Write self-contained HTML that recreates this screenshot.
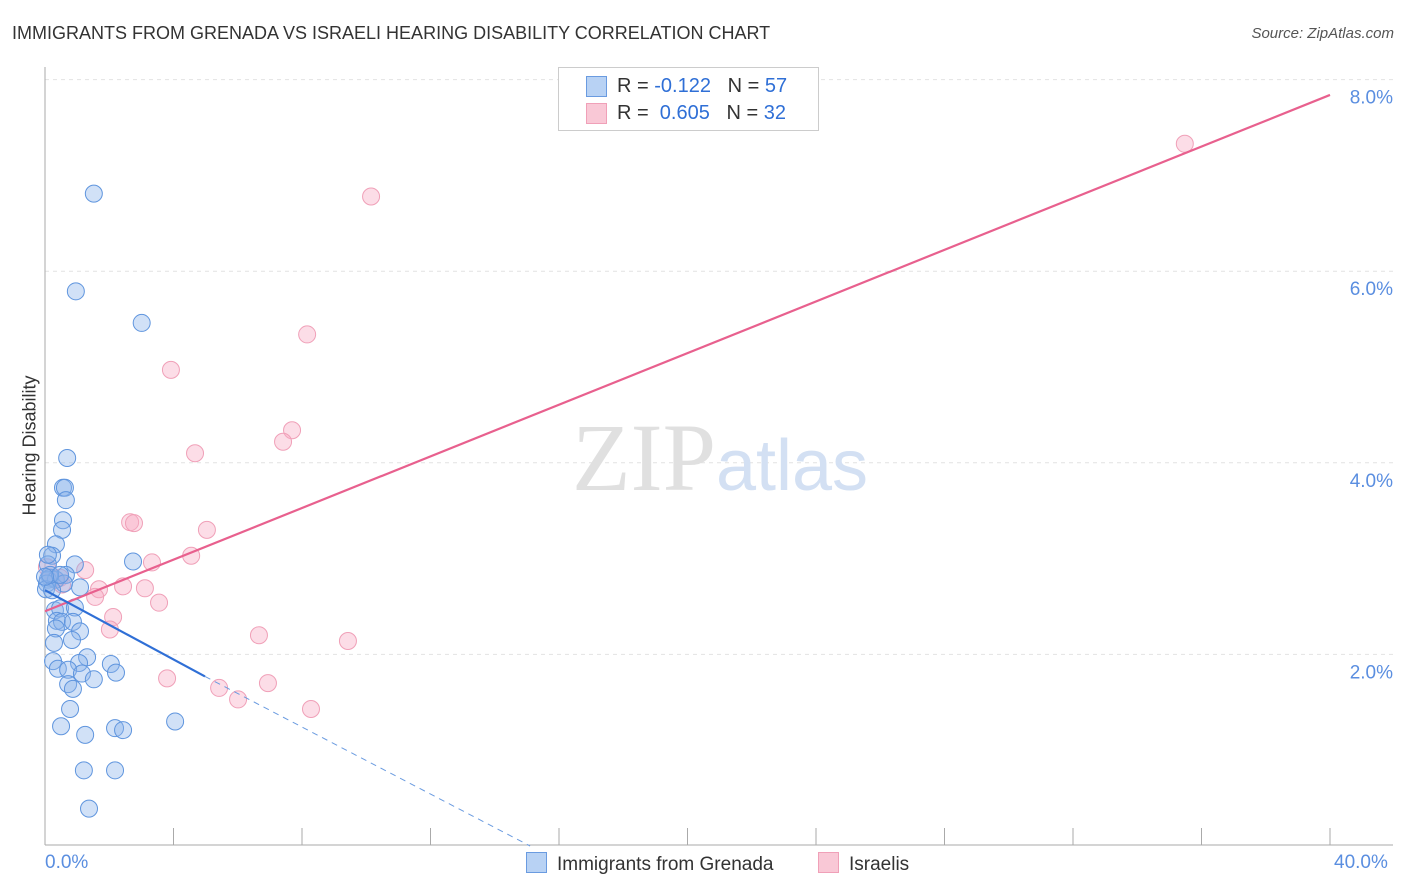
<!DOCTYPE html>
<html><head><meta charset="utf-8"><style>
body{margin:0;background:#fff;font-family:"Liberation Sans",sans-serif}
#c{position:relative;width:1406px;height:892px}
.t{position:absolute;white-space:nowrap}
.sw{position:absolute;width:19px;height:19px}
</style></head><body>
<div id="c">
<div class="t" style="left:12px;top:23px;font-size:18px;color:#333">IMMIGRANTS FROM GRENADA VS ISRAELI HEARING DISABILITY CORRELATION CHART</div>
<div class="t" style="right:12px;top:25px;font-size:15px;font-style:italic;color:#555">Source: ZipAtlas.com</div>
<div class="t" style="left:-30px;top:445px;font-size:18px;color:#333;transform:rotate(-90deg);width:120px;text-align:center">Hearing Disability</div>
<svg id="s" width="1406" height="892" style="position:absolute;left:0;top:0"></svg>
</div>
<script>
const blueX=[1.52,0.96,3.01,0.69,0.56,0.62,0.65,0.56,0.53,0.34,0.22,0.09,0.93,2.74,0.16,0.09,0.34,0.65,1.09,0.59,0.31,0.47,0.93,0.37,0.53,0.87,0.34,1.09,0.84,0.28,1.31,0.25,1.06,2.05,0.40,0.72,1.15,2.21,1.52,0.72,0.87,0.78,4.05,0.50,1.25,2.18,2.43,1.21,2.18,1.37,0.06,0.03,0.22,0.16,0.47,0.0,0.09];
const blueY=[6.81,5.79,5.46,4.05,3.74,3.74,3.61,3.40,3.30,3.15,3.03,2.94,2.94,2.97,2.80,2.78,2.78,2.83,2.70,2.74,2.46,2.48,2.49,2.35,2.34,2.34,2.27,2.24,2.15,2.12,1.97,1.93,1.91,1.90,1.85,1.84,1.80,1.81,1.74,1.69,1.64,1.43,1.30,1.25,1.16,1.23,1.21,0.79,0.79,0.39,2.74,2.68,2.67,2.83,2.83,2.81,3.04];
const pinkX=[35.48,10.15,8.16,3.92,7.69,7.41,4.67,2.65,2.77,5.04,4.55,3.33,1.25,0.06,0.16,0.47,0.53,2.43,1.68,3.11,1.56,3.55,2.12,2.02,6.66,9.43,3.80,5.42,6.94,6.01,8.28,0.31];
const pinkY=[7.33,6.78,5.34,4.97,4.34,4.22,4.10,3.38,3.37,3.30,3.03,2.96,2.88,2.91,2.80,2.80,2.73,2.71,2.68,2.69,2.60,2.54,2.39,2.26,2.20,2.14,1.75,1.65,1.70,1.53,1.43,2.78];
const yTicks=[2,4,6,8];
const pinkLine=[[0,2.45],[40,7.84]];
const blueLine=[[0,2.67],[4.98,1.77]];
const blueDash=[[4.98,1.77],[15.1,0]];
const X=v=>45+v/40*1285, Y=v=>846-v*95.8;
const s=document.getElementById('s');const NS='http://www.w3.org/2000/svg';
function mk(tag,a,name){const e=document.createElementNS(NS,tag);for(const k in a)e.setAttribute(k,a[k]);


s.appendChild(e);return e;}
yTicks.forEach(v=>{mk('line',{x1:45,x2:1393,y1:Y(v),y2:Y(v),stroke:'#e2e2e2','stroke-dasharray':'4,4'},'gridline');
const t=mk('text',{x:1393,y:Y(v)+24,'text-anchor':'end','font-size':19,fill:'#5a8ee0','font-family':'Liberation Sans'},'y-tick-label');t.textContent=v.toFixed(1)+'%';});
mk('line',{x1:45,x2:45,y1:67,y2:845,stroke:'#aaa'},'y-axis-line');
mk('line',{x1:45,x2:1393,y1:845,y2:845,stroke:'#aaa'},'x-axis-line');
for(let i=0;i<=10;i++)mk('line',{x1:X(i*4),x2:X(i*4),y1:828,y2:845,stroke:'#aaa'},'x-tick');
const wm=mk('text',{x:720,y:490,'text-anchor':'middle','font-size':96,fill:'#e0e0e0','font-family':'Liberation Serif'},'watermark');wm.innerHTML='ZIP<tspan fill="#d3e0f3" font-family="Liberation Sans" font-size="72">atlas</tspan>';
pinkX.forEach((x,i)=>mk('circle',{cx:X(x),cy:Y(pinkY[i]),r:8.5,fill:'rgba(248,170,195,0.4)',stroke:'#f0a0b8','stroke-width':1},'israelis-point'));
blueX.forEach((x,i)=>mk('circle',{cx:X(x),cy:Y(blueY[i]),r:8.5,fill:'rgba(140,180,235,0.4)',stroke:'#5f95de','stroke-width':1},'grenada-point'));
mk('line',{x1:X(pinkLine[0][0]),y1:Y(pinkLine[0][1]),x2:X(pinkLine[1][0]),y2:Y(pinkLine[1][1]),stroke:'#e8608e','stroke-width':2.2},'israelis-trendline');
mk('line',{x1:X(blueLine[0][0]),y1:Y(blueLine[0][1]),x2:X(blueLine[1][0]),y2:Y(blueLine[1][1]),stroke:'#2f6fd6','stroke-width':2.2},'grenada-trendline');
mk('line',{x1:X(blueDash[0][0]),y1:Y(blueDash[0][1]),x2:X(blueDash[1][0]),y2:Y(blueDash[1][1]),stroke:'#6a9be0','stroke-width':1,'stroke-dasharray':'6,5'},'grenada-trend-extension');
</script>
<div class="t" style="left:45px;top:852px;font-size:19px;color:#5a8ee0">0.0%</div>
<div class="t" style="left:1334px;top:852px;font-size:19px;color:#5a8ee0">40.0%</div>
<div style="position:absolute;left:558px;top:67px;width:259px;height:62px;border:1px solid #ccc;background:#fff;font-size:20px;color:#333">
<div class="sw" style="left:27px;top:8px;background:#b8d2f4;border:1px solid #6a9be0"></div>
<div class="t" style="left:58px;top:7px">R = <span style="color:#2f6fd6">-0.122</span>&nbsp;&nbsp;&nbsp;N = <span style="color:#2f6fd6">57</span></div>
<div class="sw" style="left:27px;top:35px;background:#f9c8d6;border:1px solid #f0a0b8"></div>
<div class="t" style="left:58px;top:34px">R = &nbsp;<span style="color:#2f6fd6">0.605</span>&nbsp;&nbsp;&nbsp;N = <span style="color:#2f6fd6">32</span></div>
</div>
<div class="t" style="left:526px;top:852px;font-size:19px;color:#333"><span style="display:inline-block;width:19px;height:19px;background:#b8d2f4;border:1px solid #6a9be0;vertical-align:-3px;margin-right:10px"></span>Immigrants from Grenada</div>
<div class="t" style="left:818px;top:852px;font-size:19px;color:#333"><span style="display:inline-block;width:19px;height:19px;background:#f9c8d6;border:1px solid #f0a0b8;vertical-align:-3px;margin-right:10px"></span>Israelis</div>
</body></html>
